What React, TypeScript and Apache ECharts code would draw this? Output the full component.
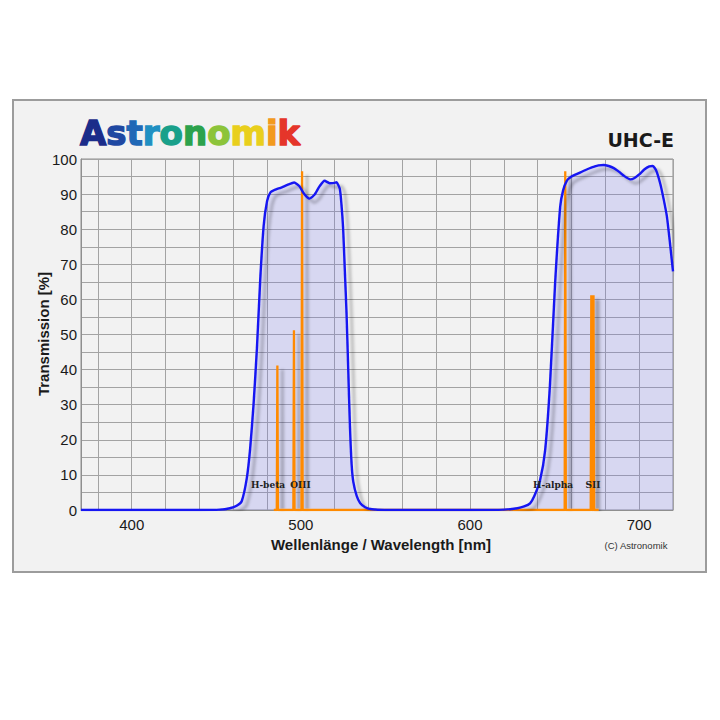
import React, { useEffect, useRef } from 'react';
import * as echarts from 'echarts';

// Filter transmission curve (UHC-E)
const wavelengths = [
  370, 440, 452, 458, 462, 465, 468, 470, 472, 474, 476, 478, 480, 482, 485, 488, 492, 496, 499,
  502, 505, 508, 511, 514, 517, 520, 521, 523, 524, 525, 526, 527, 528, 529, 530, 531, 533, 535,
  538, 542, 550, 600, 620, 628, 632, 635.5, 638, 641.4, 644.4, 647.3, 650.3, 653.3, 655, 657.2,
  660, 664, 668, 672, 676, 679, 682, 685, 688, 691, 694.7, 697, 700, 703, 706, 708, 710, 712.4,
  714.5, 716.4, 718, 720,
];
const transmission = [
  0, 0, 0.1, 0.5, 1.2, 2.5, 9, 17.5, 30, 46, 66, 81, 88, 90.5, 91.3, 91.8, 92.6, 93.3, 92.3,
  90, 88.7, 89.8, 92.2, 93.8, 93.1, 93.2, 93.4, 91.5, 87, 80, 68, 56, 40, 24, 13, 8, 4, 2,
  0.8, 0.2, 0, 0, 0.1, 0.5, 1, 1.9, 4, 8.5, 17, 36, 64.6, 86.4, 91, 93.8,
  95, 95.9, 96.8, 97.6, 98.2, 98.3, 98, 97.4, 96.4, 95.2, 94.2, 94.5, 95.6, 97, 97.9, 98, 96.8, 93.1,
  88.5, 83.6, 77, 68,
];

// Emission lines
const emissionWavelengths = [486.1, 495.9, 500.7, 656.3, 671.7, 673.0];
const emissionPeaks = [41.2, 51.2, 96.5, 96.5, 61.2, 61.2];
const emissionRange = [484, 676];
const emissionLabels = ['H-beta', 'OIII', 'H-alpha', 'SII'];

// Axes
const xLabelValues = [400, 500, 600, 700];
const xMin = 370;
const xMax = 720;

// Texts
const logoText = 'Astronomik';
const logoColors = ['#1b2c8a', '#1f48a2', '#2068b6', '#1f90c2', '#19a08a', '#2ca24c', '#8cc43a', '#e9cf1c', '#f29a1e', '#e5352a'];
const filterName = 'UHC-E';
const yTitle = 'Transmission [%]';
const xTitle = 'Wellenlänge / Wavelength [nm]';
const copyright = '(C) Astronomik';

// layout (pixels)
const labelPos = [
  [268, 485],
  [300.5, 485],
  [553, 484.5],
  [593, 484.5],
];

function buildCurve() {
  return wavelengths.map((w, i) => [w, transmission[i]]);
}

function buildEmission() {
  const pts: number[][] = [[emissionRange[0], 0]];
  const hw = 0.35;
  emissionWavelengths.forEach((w, i) => {
    pts.push([w - hw, 0]);
    pts.push([w, emissionPeaks[i]]);
    pts.push([w + hw, 0]);
  });
  pts.push([emissionRange[1], 0]);
  return pts;
}

export default function App() {
  const ref = useRef<HTMLDivElement>(null);
  useEffect(() => {
    if (!ref.current) return;
    const chart = echarts.init(ref.current, null, { renderer: 'svg' });
    const curve = buildCurve();
    const rich: Record<string, any> = {};
    let logoStr = '';
    logoText.split('').forEach((ch, i) => {
      const key = 'c' + i;
      rich[key] = {
        fill: logoColors[i],
        stroke: logoColors[i],
        lineWidth: 1.4,
        fontFamily: 'DejaVu Sans',
        fontWeight: 'bold',
        fontSize: 34,
      };
      logoStr += `{${key}|${ch}}`;
    });
    const gridColor = '#a3a3a3';
    const shadow = {
      shadowColor: 'rgba(0,0,0,0.28)',
      shadowBlur: 3,
      shadowOffsetX: 5,
      shadowOffsetY: 4,
    };
    chart.setOption({
      animation: false,
      backgroundColor: '#ffffff',
      grid: {
        left: 81,
        right: 47,
        top: 159,
        bottom: 210,
        show: true,
        borderColor: '#8f8f8f',
        borderWidth: 1,
        backgroundColor: 'transparent',
      },
      xAxis: {
        type: 'value',
        min: xMin,
        max: xMax,
        splitNumber: 17,
        minInterval: 20,
        maxInterval: 20,
        axisLine: { show: true, lineStyle: { color: '#8f8f8f' } },
        axisTick: { show: false },
        axisLabel: {
          formatter: (v: number) => (xLabelValues.indexOf(Math.round(v)) >= 0 && Math.abs(v - Math.round(v)) < 1e-6 ? String(Math.round(v)) : ''),
          fontFamily: 'Liberation Sans',
          fontSize: 15,
          color: '#1a1a1a',
          margin: 7,
        },
        splitLine: { show: true, lineStyle: { color: gridColor, width: 1 } },
      },
      yAxis: {
        type: 'value',
        min: 0,
        max: 100,
        interval: 10,
        axisLine: { show: true, lineStyle: { color: '#8f8f8f' } },
        axisTick: { show: false },
        minorTick: { show: false, splitNumber: 2 },
        minorSplitLine: { show: true, lineStyle: { color: gridColor, width: 1 } },
        axisLabel: {
          fontFamily: 'Liberation Sans',
          fontSize: 15,
          color: '#1a1a1a',
          margin: 4,
        },
        splitLine: { show: true, lineStyle: { color: gridColor, width: 1 } },
      },
      series: [
        {
          type: 'line',
          data: curve,
          showSymbol: false,
          smooth: 0.2,
          lineStyle: { width: 0, opacity: 0 },
          areaStyle: { color: 'rgba(120,120,240,0.3)', origin: 'start' },
          z: 2,
          silent: true,
        },
        {
          type: 'line',
          data: buildEmission(),
          showSymbol: false,
          lineStyle: { color: '#ff8a00', width: 2.3, ...shadow },
          z: 3,
          silent: true,
        },
        {
          type: 'line',
          data: curve,
          showSymbol: false,
          smooth: 0.2,
          lineStyle: { color: '#1616f2', width: 2.4, ...shadow },
          z: 4,
          silent: true,
        },
      ],
      graphic: [
        {
          type: 'rect',
          z: -100,
          silent: true,
          shape: { x: 13, y: 100, width: 693, height: 472 },
          style: { fill: '#f2f2f2', stroke: '#9c9c9c', lineWidth: 2 },
        },
        {
          type: 'text',
          x: 80,
          y: 133,
          style: { text: logoStr, rich, verticalAlign: 'middle', align: 'left', fontSize: 34, fontFamily: 'DejaVu Sans', fontWeight: 'bold' },
        },
        {
          type: 'text',
          x: 674,
          y: 140,
          style: { text: filterName, align: 'right', verticalAlign: 'middle', fontFamily: 'DejaVu Sans', fontWeight: 'bold', fontSize: 19, fill: '#1a1a1a' },
        },
        {
          type: 'text',
          x: 43,
          y: 334,
          rotation: Math.PI / 2,
          style: { text: yTitle, align: 'center', verticalAlign: 'middle', fontFamily: 'Liberation Sans', fontWeight: 'bold', fontSize: 15, fill: '#1a1a1a' },
        },
        {
          type: 'text',
          x: 381,
          y: 544,
          style: { text: xTitle, align: 'center', verticalAlign: 'middle', fontFamily: 'Liberation Sans', fontWeight: 'bold', fontSize: 15, fill: '#1a1a1a' },
        },
        {
          type: 'text',
          x: 636,
          y: 545,
          style: { text: copyright, align: 'center', verticalAlign: 'middle', fontFamily: 'Liberation Sans', fontSize: 9.5, fill: '#333333' },
        },
        ...emissionLabels.map((t, i) => ({
          type: 'text',
          x: labelPos[i][0],
          y: labelPos[i][1],
          z: 10,
          style: { text: t, align: 'center', verticalAlign: 'middle', fontFamily: 'DejaVu Serif', fontWeight: 'bold', fontSize: 9, fill: '#222222' },
        })),
      ],
    });
    return () => chart.dispose();
  }, []);
  return (
    <div
      ref={ref}
      style={{ position: 'fixed', left: 0, top: 0, width: 720, height: 720, background: '#ffffff' }}
    />
  );
}
